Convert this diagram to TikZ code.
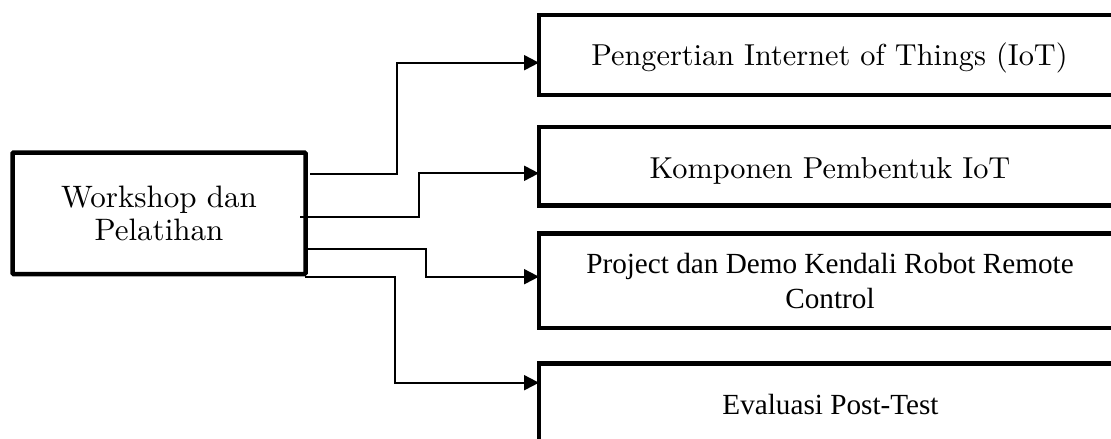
\documentclass[tikz,border=0pt]{standalone}
\usepackage{fontspec}
\newfontfamily\timesf{Liberation Serif}
\usetikzlibrary{arrows.meta}
\begin{document}
\begin{tikzpicture}[x=1pt,y=-1pt,
  box/.style={draw, line width=4.5pt, rectangle, inner sep=0pt, outer sep=0pt, anchor=north west},
  conn/.style={line width=2pt, -{Triangle[length=15pt,width=15pt]}},
  lmtext/.style={inner sep=0pt, scale=3.03},
  tmtext/.style={inner sep=0pt, font=\timesf\fontsize{29.2}{35}\selectfont, align=center}]
\useasboundingbox (0,0) rectangle (1111,439);
\clip (0,0) rectangle (1111,439);
% boxes
\node[box, minimum width=293pt, minimum height=121.5pt, rounded corners=1pt] (ws) at (12.5,152.5) {};
\node[inner sep=0pt, scale=3.1, align=center, font=\fontsize{10}{10.6}\selectfont] (wst) at (ws.center) {Workshop dan\\Pelatihan};
\node[box, minimum width=600pt, minimum height=80pt] (b1) at (539,15) {};
\node[box, minimum width=600pt, minimum height=78.5pt] (b2) at (539,127) {};
\node[box, minimum width=600pt, minimum height=94.5pt] (b3) at (539,233.3) {};
\node[box, minimum width=600pt, minimum height=120pt] (b4) at (539,363.3) {};
% texts
\node[lmtext, anchor=base] (t1) at (829.5,65.7) {Pengertian Internet of Things (IoT)};
\node[lmtext, anchor=base] (t2) at (830,178.3) {Komponen Pembentuk IoT};
\node[tmtext] (t3) at (830,280.8) {Project dan Demo Kendali Robot Remote\\Control};
\node[tmtext, anchor=base] (t4) at (830.5,414) {Evaluasi Post-Test};
% connectors
\coordinate (s1) at (310,173.7);
\coordinate (s2) at (300,217.3);
\coordinate (s3) at (307,249.3);
\coordinate (s4) at (305,276.7);
\draw[conn] (s1) -- ++(87.3,0) |- (b1.west |- 0,62.7);
\draw[conn] (s2) -- ++(119.3,0) |- (b2.west |- 0,173.3);
\draw[conn] (s3) -- ++(118.7,0) |- (b3.west |- 0,276.7);
\draw[conn] (s4) -- ++(90,0) |- (b4.west |- 0,382.7);
\end{tikzpicture}
\end{document}
